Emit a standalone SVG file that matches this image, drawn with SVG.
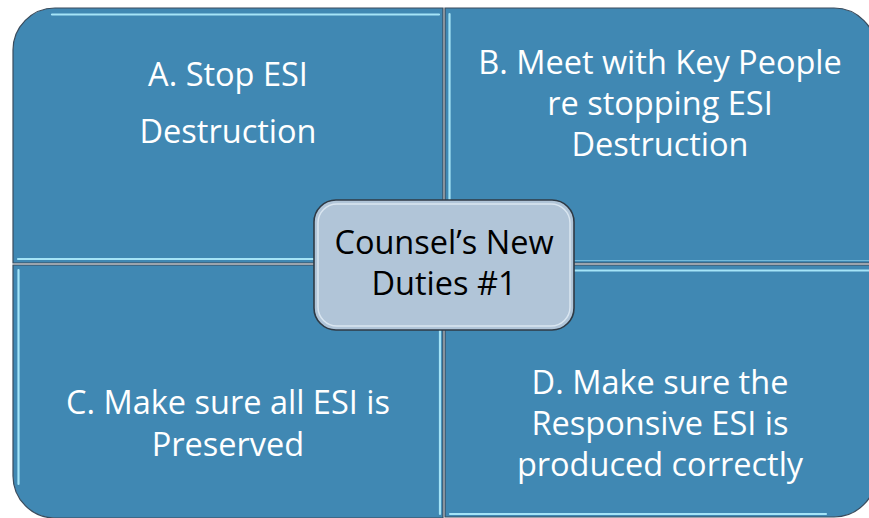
<svg xmlns="http://www.w3.org/2000/svg" width="869" height="518" viewBox="0 0 869 518">
  <defs>
    <style>
      .quad { fill: #4088B3; stroke: #3A4B5C; stroke-width: 1.2; }
      .hl { stroke: #A5E4F7; stroke-width: 2.2; fill: none; stroke-linecap: round; }
      .hl2 { stroke: #7FC6E3; stroke-width: 1; fill: none; opacity: 0.8; }
      .qt { font-family: "Open Sans", "Liberation Sans", sans-serif; font-size: 32.5px; fill: #FFFFFF; text-anchor: middle; }
      .ct { font-family: "Open Sans", "Liberation Sans", sans-serif; font-size: 32.5px; fill: #000000; text-anchor: middle; }
    </style>
  </defs>
  <rect width="869" height="518" fill="#FFFFFF"/>

  <g id="quadA">
    <path class="quad" d="M13,263 V50 A42,42 0 0 1 55,8 H443 V263 Z"/>
    <path class="hl" d="M52,14.5 H439"/>
    <path class="hl" d="M18,259 H439"/>
    <text class="qt" x="228" y="86">A. Stop ESI</text>
    <text class="qt" x="228" y="143">Destruction</text>
  </g>

  <g id="quadB">
    <path class="quad" d="M445,8 H834 A42,42 0 0 1 876,50 V263 H445 Z"/>
    <path class="hl" d="M449.5,14 V258"/>
    <path class="hl2" d="M447,260.5 H876"/>
    <text class="qt" x="660" y="74">B. Meet with Key People</text>
    <text class="qt" x="660" y="115">re stopping ESI</text>
    <text class="qt" x="660" y="156">Destruction</text>
  </g>

  <g id="quadC">
    <path class="quad" d="M13,265 H443 V518 H55 A42,42 0 0 1 13,476 Z"/>
    <path class="hl" d="M18.5,270 V484"/>
    <path class="hl" d="M440,270 V514"/>
    <text class="qt" x="228" y="414">C. Make sure all ESI is</text>
    <text class="qt" x="228" y="456">Preserved</text>
  </g>

  <g id="quadD">
    <path class="quad" d="M445,265 H876 V475 A42,42 0 0 1 834,517 H445 Z"/>
    <path class="hl" d="M450,270.5 H876"/>
    <path class="hl" d="M450,514 H826"/>
    <text class="qt" x="660" y="394">D. Make sure the</text>
    <text class="qt" x="660" y="435">Responsive ESI is</text>
    <text class="qt" x="660" y="476">produced correctly</text>
  </g>

  <g id="center">
    <rect x="314" y="200" width="260" height="130" rx="22" ry="22" fill="#B1C5D8" stroke="#2F3A45" stroke-width="1.6"/>
    <rect x="318" y="204" width="252" height="122" rx="19" ry="19" fill="none" stroke="#E4EEF6" stroke-width="1.5" opacity="0.8"/>
    <text class="ct" x="444" y="254">Counsel’s New</text>
    <text class="ct" x="444" y="295">Duties #1</text>
  </g>

  <g id="connectors"></g>
</svg>
